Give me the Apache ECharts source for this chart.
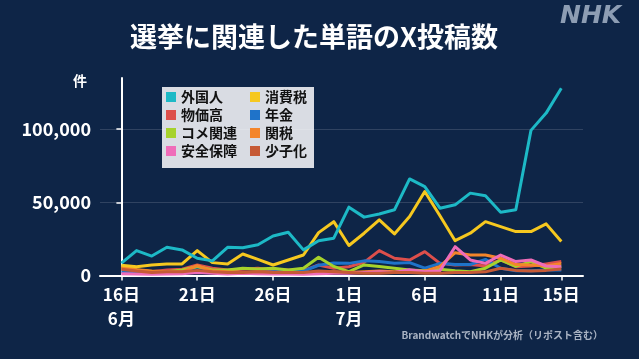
<!DOCTYPE html>
<html>
<head>
<meta charset="utf-8">
<script src="https://cdn.jsdelivr.net/npm/echarts@6/dist/echarts.min.js"></script>
<style>
html,body{margin:0;padding:0;background:#0e2547;}
#c{width:639px;height:359px;}
</style>
</head>
<body>
<div id="c"></div>
<script>
// Day index 0 = 6/16 ... 29 = 7/15
const tickIdx = [0, 5, 10, 15, 20, 25, 29];
const tickLabels = ['16日\n6月', '21日', '26日', '1日\n7月', '6日', '11日', '15日'];
const yTicks = [0, 50000, 100000];

const seriesNames = ['外国人', '消費税', '物価高', '年金', 'コメ関連', '関税', '安全保障', '少子化'];

const gaikokujin = [8400,17000,13300,19300,17500,11800,10000,19300,19000,21000,27000,29600,17500,23800,25500,46700,39900,42000,44900,66000,60800,46000,48300,56300,54500,43300,44900,99200,111000,128000];
const shohizei = [7000,6000,7200,7900,7900,17000,8800,7900,14700,11000,7200,10600,14000,29300,36800,20500,28900,38000,28400,40300,57400,40800,23800,28900,36800,33400,30000,30000,35300,23200];
const bukka = [5000,3800,2600,3800,4300,7200,5000,3800,4300,5000,3800,3800,3300,7200,5000,6000,9000,17000,11800,10600,16300,8300,7200,7500,6500,10600,6000,6500,7900,9500];
const nenkin = [2600,2000,1500,1800,2500,6000,3000,1500,1500,2000,2500,2500,3000,7000,8500,8300,10000,9500,8300,8800,5000,8300,7500,7500,11000,5000,3300,3300,3800,3800];
const kome = [5600,3800,2600,2600,3800,6200,3800,3800,5000,4500,5000,3800,5000,12500,6200,2600,7200,6200,5000,3800,3300,4300,3300,2600,5000,10600,6200,9500,5000,6200];
const kanzei = [6200,4000,3000,2500,2500,6800,3000,2500,2000,2500,2000,2000,1500,2000,2500,2000,2500,3000,2500,2500,3000,6200,15600,14000,14000,11800,7500,7200,6500,8300];
const anzen = [1200,1000,800,1000,1200,2000,1500,1000,1500,1200,1000,1000,800,1200,1500,1500,2000,2500,2000,4000,2500,3300,19700,10600,8300,14000,9500,10600,6500,5900];
const shoshika = [4300,3000,2000,2500,2500,3500,2500,2000,2000,2500,2000,2000,2000,3000,2500,2000,1500,1500,2000,2000,1500,1500,2000,2000,2500,5000,3500,3000,3500,4500];

const allValues = [gaikokujin, shohizei, bukka, nenkin, kome, kanzei, anzen, shoshika];
const colors = ['#1db9c6', '#f6c81f', '#dd4f4b', '#1f73c9', '#a6d22c', '#f4852a', '#ef6cb9', '#c65a36'];

const FONT = '"Noto Sans CJK JP", "Noto Sans", sans-serif';

const chart = echarts.init(document.getElementById('c'), null, {renderer: 'canvas'});

const series = seriesNames.map((name, k) => ({
  name: name,
  type: 'line',
  data: allValues[k].map((v, i) => [i, v]),
  showSymbol: false,
  symbol: 'none',
  lineStyle: {width: 3, color: colors[k], join: 'round'},
  itemStyle: {color: colors[k]},
  z: 2 + (k === 0 ? 8 : k === 1 ? 7 : 0)
}));

const legendText = {color: '#111', fontSize: 14, fontWeight: 'bold', fontFamily: FONT};

chart.setOption({
  backgroundColor: '#0e2547',
  animation: false,
  grid: {left: 100, right: 56, top: 78, bottom: 83.5, containLabel: false},
  xAxis: {
    type: 'value',
    min: -1.41,
    max: 30.43,
    axisLine: {show: true, lineStyle: {color: '#ffffff', width: 2}},
    axisTick: {show: true, customValues: tickIdx, length: 5, lineStyle: {color: '#ffffff', width: 1.5}},
    axisLabel: {
      show: true,
      customValues: tickIdx,
      formatter: v => tickLabels[tickIdx.indexOf(Math.round(v))] || '',
      color: '#ffffff', fontSize: 17, fontWeight: 'bold', fontFamily: FONT,
      lineHeight: 24, margin: 7
    },
    splitLine: {show: false}
  },
  yAxis: {
    type: 'value',
    min: 0,
    max: 135000,
    axisLine: {show: true, lineStyle: {color: '#ffffff', width: 2}},
    axisTick: {show: true, customValues: yTicks, length: 5, lineStyle: {color: '#ffffff', width: 1.5}},
    axisLabel: {
      show: true,
      customValues: yTicks,
      formatter: v => v.toLocaleString('en-US'),
      color: '#ffffff', fontSize: 18, fontWeight: 'bold', fontFamily: FONT, margin: 9
    },
    splitLine: {show: true, lineStyle: {color: ['rgba(0,0,0,0)', 'rgba(255,255,255,0.14)', 'rgba(255,255,255,0.14)', 'rgba(0,0,0,0)'], width: 1}}
  },
  legend: [
    {
      data: ['外国人', '物価高', 'コメ関連', '安全保障'],
      orient: 'vertical', left: 166, top: 90,
      itemWidth: 10, itemHeight: 10, itemGap: 4, icon: 'rect',
      textStyle: legendText, padding: 0, selectedMode: false
    },
    {
      data: ['消費税', '年金', '関税', '少子化'],
      orient: 'vertical', left: 250, top: 90,
      itemWidth: 10, itemHeight: 10, itemGap: 4, icon: 'rect',
      textStyle: legendText, padding: 0, selectedMode: false
    }
  ],
  graphic: [
    {type: 'rect', left: 162, top: 87, z: 0, shape: {width: 152, height: 81}, style: {fill: '#d9dce3'}},
    {type: 'text', left: 130, top: 23, z: 10,
     style: {text: '選挙に関連した単語のX投稿数', fill: '#ffffff', font: 'bold 27px ' + FONT,
             shadowColor: 'rgba(0,0,0,0.6)', shadowBlur: 3, shadowOffsetX: 1, shadowOffsetY: 1}},
    {type: 'text', left: 560, top: 4, z: 10,
     style: {text: 'NHK', fill: '#8d9db3', font: 'italic 900 25px "DejaVu Sans", sans-serif'}},
    {type: 'text', left: 73, top: 74, z: 10,
     style: {text: '件', fill: '#ffffff', font: 'bold 14px ' + FONT}},
    {type: 'text', right: 36, top: 330, z: 10,
     style: {text: 'BrandwatchでNHKが分析（リポスト含む）', fill: '#a9b3c3', font: 'bold 10px ' + FONT}}
  ],
  series: series
});
</script>
</body>
</html>
